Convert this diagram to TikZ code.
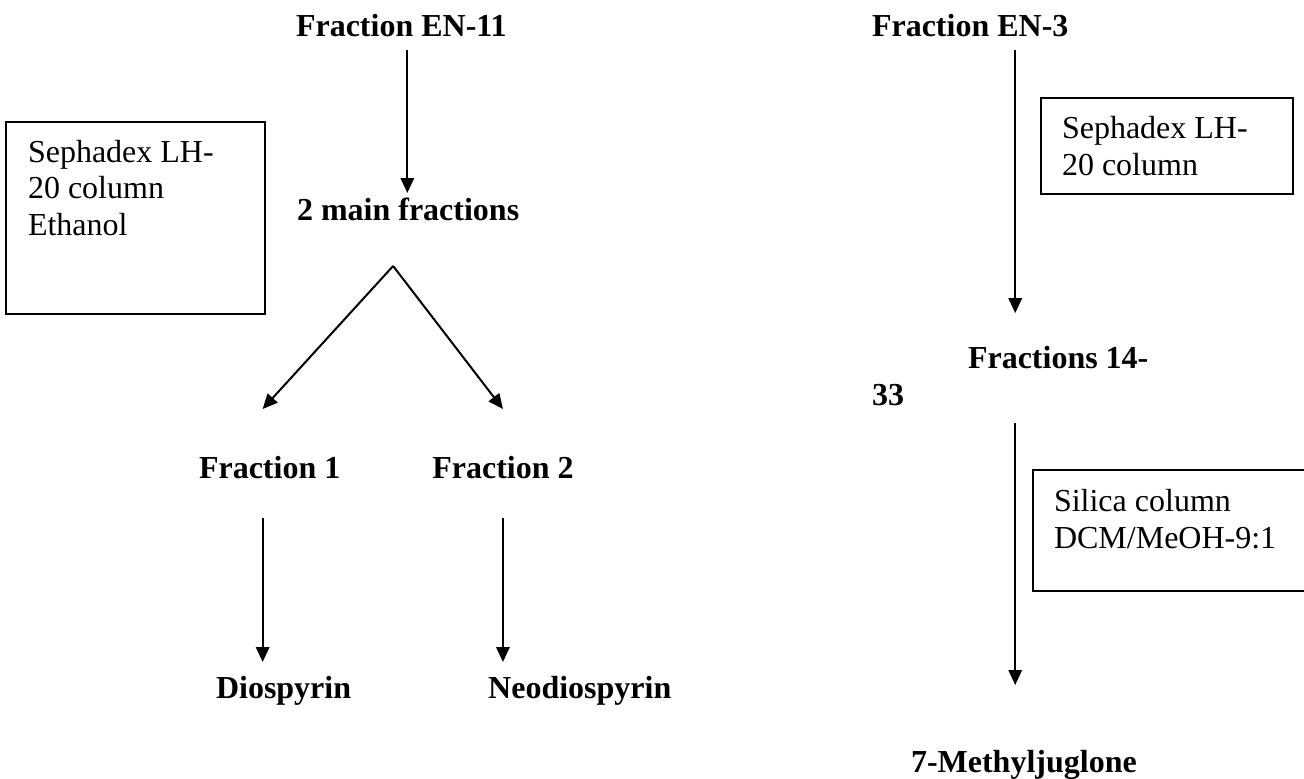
\documentclass[tikz,border=0pt]{standalone}
\usepackage{fontspec}
\setmainfont{Liberation Serif}
\usetikzlibrary{arrows.meta, positioning, calc}

\begin{document}
\fontsize{12}{13.75}\selectfont
\begin{tikzpicture}[x=0.375pt, y=-0.375pt, line width=0.75pt,
      >={Triangle[length=5.6pt,width=5pt]},
      every node/.style={inner sep=0pt, outer sep=0pt},
      head/.style={font=\bfseries, anchor=base west},
      note/.style={anchor=base west, align=left},
      panel/.style={draw, anchor=north west}]
      \clip (0,0) rectangle (1304,778);
      % left branch
      \node[head] (en_11) at (296,37) {Fraction EN-11};
      \node[head] (main_2) at (297,220) {2 main fractions};
      \node[head] (fr_1) at (199,478) {Fraction 1};
      \node[head, right=34.5pt of fr_1] (fr_2) {Fraction 2};
      \node[head] (dio) at (216,698) {Diospyrin};
      \node[head, right=51.4pt of dio] (neo) {Neodiospyrin};
      \node[panel, minimum width=97.1pt, minimum height=72pt] (box_1) at (6,122) {};
      \node[note] (col_1) at ($(box_1.north west)+(22,113.5)$) {Sephadex LH-\\20 column\\Ethanol};
      % right branch
      \node[head] (en_3) at (872,37) {Fraction EN-3};
      \node[head, align=left] (fr_14) at (872,405) {\hspace*{36pt}Fractions 14-\\33};
      \node[head] (mj) at (911,772) {7-Methyljuglone};
      \node[panel, minimum width=94.5pt, minimum height=36pt] (box_2) at (1041,98) {};
      \node[note] (col_2) at ($(box_2.north west)+(21,77)$) {Sephadex LH-\\20 column};
      \node[panel, minimum width=110pt, minimum height=45.4pt] (box_3) at (1033,470) {};
      \node[note] (col_3) at ($(box_3.north west)+(21,78)$) {Silica column\\DCM/MeOH-9:1};

      \coordinate (s_0) at ($(en_11.base)+(6,13)$);
      \draw[->] (s_0) -- ($(s_0 |- main_2.base)+(0,-27)$);
      \coordinate (split) at ($(main_2.base)+(-15,46)$);
      \draw[->] (split) -- ($(fr_1.base)+(-7,-69)$);
      \draw[->] (split) -- ($(fr_2.base)+(0,-69)$);
      \coordinate (s_1) at ($(fr_1.base)+(-7,40)$);
      \draw[->] (s_1) -- ($(s_1 |- dio.base)+(0,-36)$);
      \coordinate (s_2) at ($(fr_2.base)+(0,40)$);
      \draw[->] (s_2) -- ($(s_2 |- neo.base)+(0,-36)$);
      \coordinate (s_3) at ($(en_3.base)+(45,13)$);
      \draw[->] (s_3) -- ($(s_3 |- fr_14.north)+(0,-33)$);
      \draw[->] ($(s_3 |- fr_14.base)+(0,18)$) -- ($(s_3 |- mj.base)+(0,-87)$);
\end{tikzpicture}
\end{document}
